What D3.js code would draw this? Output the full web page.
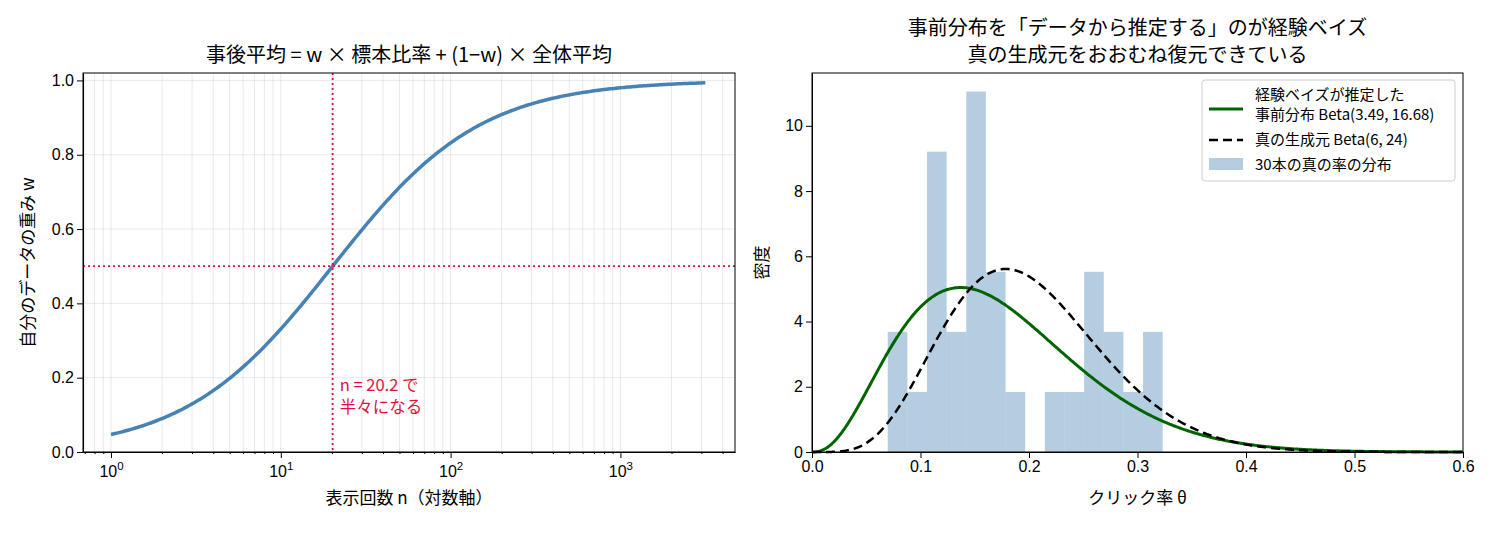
<!DOCTYPE html>
<html>
<head>
<meta charset="utf-8">
<script src="https://cdn.jsdelivr.net/npm/d3@7"></script>
<style>
  body { margin: 0; background: #fff; }
  svg { font-family: "Noto Sans CJK JP", "Noto Sans", sans-serif; }
  .tick text { font-size: 16px; fill: #000; }
  .label { font-size: 17px; fill: #000; }
  .title { font-size: 20px; fill: #000; }
</style>
</head>
<body>
<svg id="chart" width="1495" height="533"></svg>
<script>
// shrinkage weight w = n / (n + k)
var kHalf = [20.2];
var nRange = [1, 3162];
var wTicks = [0, 0.2, 0.4, 0.6, 0.8, 1.0];
var nTicks = [1, 10, 100, 1000];

// 30 true click rates
var trueRates = [0.0698, 0.078, 0.095, 0.108, 0.112, 0.115, 0.118, 0.121, 0.130, 0.137,
  0.145, 0.148, 0.151, 0.153, 0.156, 0.159, 0.164, 0.169, 0.174, 0.187,
  0.222, 0.241, 0.254, 0.259, 0.265, 0.274, 0.281, 0.296, 0.312, 0.3232];
var binCount = [14];
var estParams = [3.49, 16.68];
var trueParams = [6, 24];
var thetaTicks = [0, 0.1, 0.2, 0.3, 0.4, 0.5, 0.6];
var densTicks = [0, 2, 4, 6, 8, 10];

var svg = d3.select("#chart");

// ---------- left panel ----------
var L = { x: 83, y: 73, w: 652, h: 379 };
var xLog = d3.scaleLog().domain([0.684, 4730]).range([0, L.w]);
var yW = d3.scaleLinear().domain([0, 1.02]).range([L.h, 0]);
var left = svg.append('g').attr('transform', 'translate(' + L.x + ',' + L.y + ')');

// grid (major + minor on x)
var minorN = [];
[0.1, 1, 10, 100, 1000].forEach(function(dec) {
  for (var m = 1; m <= 9; m++) {
    var v = dec * m;
    if (v >= xLog.domain()[0] && v <= xLog.domain()[1]) minorN.push(v);
  }
});
left.append('g').selectAll('line').data(minorN).enter().append('line')
  .attr('x1', d => xLog(d)).attr('x2', d => xLog(d)).attr('y1', 0).attr('y2', L.h)
  .attr('stroke', '#b0b0b0').attr('stroke-opacity', 0.35).attr('stroke-width', 0.8);
left.append('g').selectAll('line').data(wTicks).enter().append('line')
  .attr('x1', 0).attr('x2', L.w).attr('y1', d => yW(d)).attr('y2', d => yW(d))
  .attr('stroke', '#b0b0b0').attr('stroke-opacity', 0.35).attr('stroke-width', 0.8);

// curve
var nVals = d3.range(0, 301).map(i => Math.pow(10, Math.log10(nRange[0]) + i / 300 * (Math.log10(nRange[1]) - Math.log10(nRange[0]))));
var wLine = d3.line().x(d => xLog(d)).y(d => yW(d / (d + kHalf[0])));
left.append('path').datum(nVals).attr('d', wLine)
  .attr('fill', 'none').attr('stroke', 'steelblue').attr('stroke-width', 3.5);

// reference lines
left.append('line').attr('x1', xLog(kHalf[0])).attr('x2', xLog(kHalf[0])).attr('y1', 0).attr('y2', L.h)
  .attr('stroke', 'crimson').attr('stroke-width', 1.8).attr('stroke-dasharray', '2,3');
left.append('line').attr('x1', 0).attr('x2', L.w).attr('y1', yW(0.5)).attr('y2', yW(0.5))
  .attr('stroke', 'crimson').attr('stroke-width', 1.8).attr('stroke-dasharray', '2,3');
var ann = left.append('text').attr('font-size', 16.5).attr('fill', 'crimson')
  .attr('x', xLog(kHalf[0]) + 7).attr('y', yW(0.18) + 6);
ann.append('tspan').text('n = ' + kHalf[0] + ' で');
ann.append('tspan').attr('x', xLog(kHalf[0]) + 7).attr('dy', 22).text('半々になる');

// axes
var xAxisL = left.append('g').attr('transform', 'translate(0,' + L.h + ')')
  .call(d3.axisBottom(xLog).tickValues(nTicks).tickSizeOuter(0).tickPadding(5).tickFormat(''));
xAxisL.selectAll('.tick').append('text').attr('y', 25).attr('text-anchor', 'middle').attr('fill', '#000')
  .each(function(d) {
    var t = d3.select(this);
    t.append('tspan').text('10');
    t.append('tspan').attr('font-size', 11.5).attr('dy', -7).text(Math.round(Math.log10(d)));
  });
left.append('g').attr('transform', 'translate(0,' + L.h + ')')
  .call(d3.axisBottom(xLog).tickValues(minorN.filter(d => nTicks.indexOf(d) < 0)).tickSize(2).tickFormat(''))
  .call(g => g.select('.domain').remove());
left.append('g').call(d3.axisLeft(yW).tickValues(wTicks).tickFormat(d3.format('.1f')).tickSizeOuter(0));
left.append('rect').attr('width', L.w).attr('height', L.h).attr('fill', 'none').attr('stroke', '#000').attr('stroke-width', 1);

left.append('text').attr('class', 'label').attr('text-anchor', 'middle')
  .attr('x', L.w / 2).attr('y', L.h + 52).text('表示回数 n（対数軸）');
left.append('text').attr('class', 'label').attr('text-anchor', 'middle')
  .attr('transform', 'translate(-49,' + (L.h / 2) + ') rotate(-90)').text('自分のデータの重み w');
left.append('text').attr('class', 'title').attr('text-anchor', 'middle')
  .attr('x', L.w / 2).attr('y', -11).text('事後平均 = w × 標本比率 + (1−w) × 全体平均');

// ---------- right panel ----------
var R = { x: 812, y: 73, w: 651, h: 379 };
var xT = d3.scaleLinear().domain([0, 0.6]).range([0, R.w]);
var yD = d3.scaleLinear().domain([0, 11.62]).range([R.h, 0]);
var right = svg.append('g').attr('transform', 'translate(' + R.x + ',' + R.y + ')');

var ext = d3.extent(trueRates);
var bw = (ext[1] - ext[0]) / binCount[0];
var bins = d3.bin().domain(ext).thresholds(d3.range(1, binCount[0]).map(i => ext[0] + i * bw))(trueRates);
right.append('g').selectAll('rect').data(bins).enter().append('rect')
  .attr('x', d => xT(d.x0)).attr('width', d => xT(d.x1) - xT(d.x0))
  .attr('y', d => yD(d.length / (trueRates.length * bw)))
  .attr('height', d => R.h - yD(d.length / (trueRates.length * bw)))
  .attr('fill', 'steelblue').attr('fill-opacity', 0.4);

function lgamma(z) {
  var g = 7, c = [0.99999999999980993, 676.5203681218851, -1259.1392167224028, 771.32342877765313,
    -176.61502916214059, 12.507343278686905, -0.13857109526572012, 9.9843695780195716e-6, 1.5056327351493116e-7];
  z -= 1;
  var x = c[0];
  for (var i = 1; i < g + 2; i++) x += c[i] / (z + i);
  var t = z + g + 0.5;
  return 0.5 * Math.log(2 * Math.PI) + (z + 0.5) * Math.log(t) - t + Math.log(x);
}
function betaPdf(x, a, b) {
  if (x <= 0 || x >= 1) return 0;
  return Math.exp((a - 1) * Math.log(x) + (b - 1) * Math.log(1 - x) - (lgamma(a) + lgamma(b) - lgamma(a + b)));
}
var thetas = d3.range(0, 601).map(i => i / 1000);
right.append('path').datum(thetas)
  .attr('d', d3.line().x(d => xT(d)).y(d => yD(betaPdf(d, estParams[0], estParams[1]))))
  .attr('fill', 'none').attr('stroke', 'darkgreen').attr('stroke-width', 3);
right.append('path').datum(thetas)
  .attr('d', d3.line().x(d => xT(d)).y(d => yD(betaPdf(d, trueParams[0], trueParams[1]))))
  .attr('fill', 'none').attr('stroke', '#000').attr('stroke-width', 2.5).attr('stroke-dasharray', '9,5');

right.append('g').attr('transform', 'translate(0,' + R.h + ')')
  .call(d3.axisBottom(xT).tickValues(thetaTicks).tickFormat(d3.format('.1f')).tickSizeOuter(0));
right.append('g').call(d3.axisLeft(yD).tickValues(densTicks).tickSizeOuter(0));
right.append('rect').attr('width', R.w).attr('height', R.h).attr('fill', 'none').attr('stroke', '#000').attr('stroke-width', 1);

right.append('text').attr('class', 'label').attr('text-anchor', 'middle')
  .attr('x', R.w / 2).attr('y', R.h + 52).text('クリック率 θ');
right.append('text').attr('class', 'label').attr('text-anchor', 'middle')
  .attr('transform', 'translate(-44,' + (R.h / 2) + ') rotate(-90)').text('密度');
right.append('text').attr('class', 'title').attr('text-anchor', 'middle')
  .attr('x', R.w / 2).attr('y', -38).text('事前分布を「データから推定する」のが経験ベイズ');
right.append('text').attr('class', 'title').attr('text-anchor', 'middle')
  .attr('x', R.w / 2).attr('y', -11).text('真の生成元をおおむね復元できている');

// legend
var lg = right.append('g').attr('transform', 'translate(' + (R.w - 261) + ',7)');
lg.append('rect').attr('width', 253).attr('height', 101).attr('rx', 3)
  .attr('fill', '#fff').attr('fill-opacity', 0.8).attr('stroke', '#ccc');
lg.append('line').attr('x1', 7).attr('x2', 41).attr('y1', 29).attr('y2', 29)
  .attr('stroke', 'darkgreen').attr('stroke-width', 3);
lg.append('line').attr('x1', 7).attr('x2', 41).attr('y1', 60).attr('y2', 60)
  .attr('stroke', '#000').attr('stroke-width', 2.5).attr('stroke-dasharray', '9,5');
lg.append('rect').attr('x', 7).attr('y', 78).attr('width', 34).attr('height', 12)
  .attr('fill', 'steelblue').attr('fill-opacity', 0.4);
var lt = lg.append('g').attr('font-size', 15).attr('fill', '#000');
lt.append('text').attr('x', 53).attr('y', 20).text('経験ベイズが推定した');
lt.append('text').attr('x', 53).attr('y', 40).text('事前分布 Beta(' + estParams[0] + ', ' + estParams[1] + ')');
lt.append('text').attr('x', 53).attr('y', 65).text('真の生成元 Beta(' + trueParams[0] + ', ' + trueParams[1] + ')');
lt.append('text').attr('x', 53).attr('y', 90).text(trueRates.length + '本の真の率の分布');
</script>
</body>
</html>
